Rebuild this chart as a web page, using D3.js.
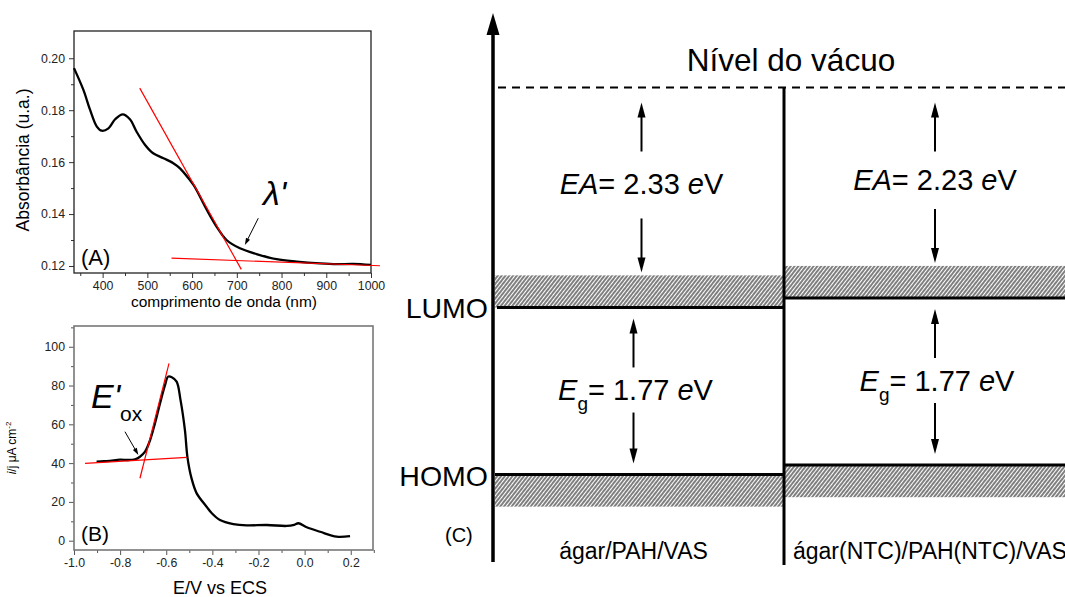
<!DOCTYPE html>
<html>
<head>
<meta charset="utf-8">
<script src="https://cdn.jsdelivr.net/npm/d3@7"></script>
<style>
  body { margin: 0; background: #fff; }
  svg { display: block; }
  text { font-family: "Liberation Sans", Arial, sans-serif; }
</style>
</head>
<body>
<svg id="fig" width="1065" height="597"></svg>
<script>
// ---- Panel A: UV-Vis absorption spectrum ----
const wavelength = [336, 357, 372, 387, 398, 413, 428, 445, 461, 476, 495, 513, 536, 558, 573, 595, 606, 633, 655, 677, 707, 744, 789, 834, 886, 923, 960, 1000];
const absorbance = [0.1962, 0.1878, 0.1801, 0.1737, 0.1721, 0.1730, 0.1765, 0.1784, 0.1765, 0.1717, 0.1666, 0.1634, 0.1615, 0.1596, 0.1576, 0.1531, 0.1505, 0.1416, 0.1351, 0.1300, 0.1268, 0.1246, 0.1226, 0.1217, 0.1210, 0.1207, 0.1208, 0.1204];
const edgeTangentX = [483, 710];
const edgeTangentY = [0.1885, 0.1187];
const tailBaseX = [554, 1020];
const tailBaseY = [0.1230, 0.1201];
const xTicksA = [400, 500, 600, 700, 800, 900, 1000];
const xMinorA = [350, 450, 550, 650, 750, 850, 950];
const yTicksA = [0.12, 0.14, 0.16, 0.18, 0.20];
const yMinorA = [0.13, 0.15, 0.17, 0.19];

// ---- Panel B: voltammogram ----
const potential = [-0.902, -0.87, -0.844, -0.80, -0.765, -0.735, -0.714, -0.692, -0.670, -0.649, -0.627, -0.605, -0.592, -0.576, -0.555, -0.538, -0.519, -0.508, -0.490, -0.468, -0.454, -0.425, -0.405, -0.367, -0.309, -0.251, -0.164, -0.078, -0.045, -0.027, 0.009, 0.067, 0.139, 0.197];
const current = [40.7, 41.0, 41.2, 41.8, 41.6, 42.0, 43.3, 45.9, 51.9, 60.5, 70.8, 80.3, 84.6, 84.3, 82.0, 72.5, 57.0, 43.0, 32.0, 24.4, 21.9, 17.5, 14.5, 10.7, 8.6, 7.9, 8.1, 7.6, 8.2, 9.0, 6.9, 4.6, 2.1, 2.4];
const onsetTangentX = [-0.714, -0.588];
const onsetTangentY = [32.2, 91.4];
const onsetBaseX = [-0.952, -0.511];
const onsetBaseY = [39.9, 43.0];
const xTicksB = [-1.0, -0.8, -0.6, -0.4, -0.2, 0.0, 0.2];
const xMinorB = [-0.9, -0.7, -0.5, -0.3, -0.1, 0.1, 0.3];
const yTicksB = [0, 20, 40, 60, 80, 100];
const yMinorB = [10, 30, 50, 70, 90, 110];

// ---- Panel C: energy level diagram ----
const films = ["ágar/PAH/VAS", "ágar(NTC)/PAH(NTC)/VAS"];
const electronAffinity = [2.33, 2.23];
const bandGap = [1.77, 1.77];
const bandThickness = 0.34;

const svg = d3.select("#fig");
svg.append("rect").attr("width", 1065).attr("height", 597).attr("fill", "#fff");

function arrow(g, x1, y1, x2, y2, len, w, sw) {
  const dx = x2 - x1, dy = y2 - y1, L = Math.hypot(dx, dy);
  const ux = dx / L, uy = dy / L;
  const bx = x2 - ux * len, by = y2 - uy * len;
  g.append("line").attr("x1", x1).attr("y1", y1)
    .attr("x2", bx + ux * 2).attr("y2", by + uy * 2)
    .attr("stroke", "#000").attr("stroke-width", sw);
  g.append("path")
    .attr("d", `M${x2},${y2}L${bx - uy * w / 2},${by + ux * w / 2}L${bx + uy * w / 2},${by - ux * w / 2}Z`)
    .attr("fill", "#000");
}

function frame(g, x, y, box, o) {
  g.append("g").attr("transform", `translate(0,${box.bottom})`)
    .call(d3.axisBottom(x).tickValues(o.xMajor).tickSize(5).tickPadding(3).tickFormat(o.xFmt));
  g.append("g").attr("transform", `translate(0,${box.bottom})`)
    .call(d3.axisBottom(x).tickValues(o.xMinor).tickSize(3).tickFormat(""));
  g.append("g").attr("transform", `translate(${box.left},0)`)
    .call(d3.axisLeft(y).tickValues(o.yMajor).tickSize(5).tickPadding(4).tickFormat(o.yFmt));
  g.append("g").attr("transform", `translate(${box.left},0)`)
    .call(d3.axisLeft(y).tickValues(o.yMinor).tickSize(3).tickFormat(""));
  g.selectAll(".domain").remove();
  g.selectAll(".tick line").attr("stroke", o.tickColor).attr("stroke-width", 1);
  g.selectAll(".tick text").attr("font-size", 12.3).attr("fill", "#222")
    .attr("font-family", "Liberation Sans, Arial, sans-serif");
  g.append("rect").attr("x", box.left).attr("y", box.top)
    .attr("width", box.right - box.left).attr("height", box.bottom - box.top)
    .attr("fill", "none").attr("stroke", o.frameColor).attr("stroke-width", o.frameWidth);
}

// ================= Panel A =================
const boxA = { left: 74, right: 371, top: 31, bottom: 273 };
const xA = d3.scaleLinear().domain([336, 1000]).range([boxA.left, boxA.right]);
const yA = d3.scaleLinear().domain([0.1173, 0.2105]).range([boxA.bottom, boxA.top]);
const gA = svg.append("g");
frame(gA, xA, yA, boxA, {
  xMajor: xTicksA, xMinor: xMinorA, yMajor: yTicksA, yMinor: yMinorA,
  xFmt: d3.format("d"), yFmt: d3.format(".2f"),
  tickColor: "#333", frameColor: "#222", frameWidth: 1.3
});
const lineA = d3.line().x(d => xA(d[0])).y(d => yA(d[1])).curve(d3.curveCatmullRom.alpha(0.5));
gA.append("path").datum(d3.zip(wavelength, absorbance)).attr("d", lineA)
  .attr("fill", "none").attr("stroke", "#000").attr("stroke-width", 2.3);
const straight = (g, xs, ys, x, y) => g.append("line")
  .attr("x1", x(xs[0])).attr("y1", y(ys[0])).attr("x2", x(xs[1])).attr("y2", y(ys[1]))
  .attr("stroke", "#f00").attr("stroke-width", 1.2);
straight(gA, edgeTangentX, edgeTangentY, xA, yA);
straight(gA, tailBaseX, tailBaseY, xA, yA);
arrow(gA, xA(748), yA(0.1384), xA(718), yA(0.1281), 7, 4.5, 1);
gA.append("text").attr("x", 263).attr("y", 205)
  .attr("font-family", "Liberation Serif, Times New Roman, serif").attr("font-style", "italic")
  .attr("font-size", 34).text("λ'");
gA.append("text").attr("x", 81).attr("y", 265).attr("font-size", 22).text("(A)");
gA.append("text").attr("x", 224).attr("y", 307).attr("text-anchor", "middle")
  .attr("font-size", 15.5).text("comprimento de onda (nm)");
gA.append("text").attr("transform", "translate(29,160) rotate(-90)").attr("text-anchor", "middle")
  .attr("font-size", 17.5).text("Absorbância (u.a.)");

// ================= Panel B =================
const boxB = { left: 74, right: 373, top: 326, bottom: 550 };
const xB = d3.scaleLinear().domain([-1.0, 0.3]).range([boxB.left, boxB.left + 299.8]);
const yB = d3.scaleLinear().domain([-4.8, 110.7]).range([boxB.bottom, boxB.top]);
const gB = svg.append("g");
frame(gB, xB, yB, boxB, {
  xMajor: xTicksB, xMinor: xMinorB, yMajor: yTicksB, yMinor: yMinorB,
  xFmt: d3.format(".1f"), yFmt: d3.format("d"),
  tickColor: "#555", frameColor: "#777", frameWidth: 1.6
});
gB.selectAll(".tick text").text(function () { return this.textContent.replace("−", "-"); });
const lineB = d3.line().x(d => xB(d[0])).y(d => yB(d[1])).curve(d3.curveCatmullRom.alpha(0.5));
gB.append("path").datum(d3.zip(potential, current)).attr("d", lineB)
  .attr("fill", "none").attr("stroke", "#000").attr("stroke-width", 2.3);
straight(gB, onsetTangentX, onsetTangentY, xB, yB);
straight(gB, onsetBaseX, onsetBaseY, xB, yB);
arrow(gB, xB(-0.779), yB(56.2), xB(-0.721), yB(44.2), 7, 4.5, 1);
gB.append("text").attr("x", 91).attr("y", 408)
  .attr("font-family", "Liberation Serif, Times New Roman, serif").attr("font-style", "italic")
  .attr("font-size", 34).text("E'");
gB.append("text").attr("x", 120).attr("y", 421).attr("font-size", 21).text("ox");
gB.append("text").attr("x", 81).attr("y", 541).attr("font-size", 21).text("(B)");
gB.append("text").attr("x", 220).attr("y", 594).attr("text-anchor", "middle")
  .attr("font-size", 18).text("E/V vs ECS");
const yl = gB.append("text").attr("transform", "translate(16,448) rotate(-90)")
  .attr("text-anchor", "middle").attr("font-size", 12);
yl.append("tspan").attr("font-style", "italic").text("i");
yl.append("tspan").text("/j μA cm");
yl.append("tspan").attr("font-size", 8).attr("dy", -5).text("-2");

// ================= Panel C =================
const gC = svg.append("g");
const defs = svg.append("defs");
const pat = defs.append("pattern").attr("id", "hatch").attr("patternUnits", "userSpaceOnUse")
  .attr("width", 3).attr("height", 10).attr("patternTransform", "rotate(38)");
pat.append("rect").attr("width", 3).attr("height", 10).attr("fill", "#fff");
pat.append("line").attr("x1", 1).attr("y1", 0).attr("x2", 1).attr("y2", 10)
  .attr("stroke", "#000").attr("stroke-width", 1);

const axisX = 493;
const colEdge = d3.scaleLinear().domain([0, 1, 2]).range([axisX, 784, 1086]);
const yE = d3.scaleLinear().domain([0, -5]).range([87.5, 559.5]);
const vac = yE(0);

films.forEach((name, i) => {
  const x0 = colEdge(i), x1 = Math.min(colEdge(i + 1), 1070);
  const cx = (colEdge(i) + colEdge(i + 1)) / 2;
  const lumo = yE(-electronAffinity[i]);
  const homo = yE(-(electronAffinity[i] + bandGap[i]));
  const hx0 = i === 0 ? x0 + 2 : x0;
  gC.append("rect").attr("x", hx0).attr("y", yE(-electronAffinity[i] + bandThickness))
    .attr("width", x1 - hx0).attr("height", lumo - yE(-electronAffinity[i] + bandThickness))
    .attr("fill", "url(#hatch)");
  gC.append("rect").attr("x", hx0).attr("y", homo)
    .attr("width", x1 - hx0).attr("height", yE(-(electronAffinity[i] + bandGap[i] + bandThickness)) - homo)
    .attr("fill", "url(#hatch)");
  gC.append("line").attr("x1", x0 + (i === 0 ? 4 : 0)).attr("x2", x1).attr("y1", lumo).attr("y2", lumo)
    .attr("stroke", "#000").attr("stroke-width", 3);
  gC.append("line").attr("x1", x0 + (i === 0 ? 2 : 0)).attr("x2", x1).attr("y1", homo).attr("y2", homo)
    .attr("stroke", "#000").attr("stroke-width", 3);

  // electron affinity arrows and label
  const eaX = i === 0 ? cx + 3 : cx;
  arrow(gC, eaX, vac + 64, eaX, vac + 15, 15, 8, 2);
  arrow(gC, eaX, lumo - 89, eaX, lumo - 35, 15, 8, 2);
  const ea = gC.append("text").attr("x", eaX).attr("y", (vac + lumo) / 2 - 3)
    .attr("text-anchor", "middle").attr("font-size", 29);
  ea.append("tspan").attr("font-style", "italic").text("EA");
  ea.append("tspan").text("= " + electronAffinity[i].toFixed(2) + " ");
  ea.append("tspan").attr("font-style", "italic").text("e");
  ea.append("tspan").text("V");

  // band gap arrows and label
  const egX = i === 0 ? cx - 5 : cx;
  arrow(gC, egX, lumo + 60, egX, lumo + 11, 15, 8, 2);
  arrow(gC, egX, homo - 62, egX, homo - 11, 15, 8, 2);
  const eg = gC.append("text").attr("x", egX + 2).attr("y", (lumo + homo) / 2 + 9.5)
    .attr("text-anchor", "middle").attr("font-size", 29);
  eg.append("tspan").attr("font-style", "italic").text("E");
  eg.append("tspan").attr("font-size", 19).attr("dy", 10).text("g");
  eg.append("tspan").attr("dy", -10).text("= " + bandGap[i].toFixed(2) + " ");
  eg.append("tspan").attr("font-style", "italic").text("e");
  eg.append("tspan").text("V");

  gC.append("text").attr("x", i === 0 ? cx - 5 : 793).attr("y", 559)
    .attr("text-anchor", i === 0 ? "middle" : "start").attr("font-size", 23).text(name);
});

// vacuum level
gC.append("line").attr("x1", axisX + 5).attr("x2", 1065).attr("y1", vac).attr("y2", vac)
  .attr("stroke", "#000").attr("stroke-width", 2).attr("stroke-dasharray", "8,6");
gC.append("text").attr("x", 791).attr("y", 71).attr("text-anchor", "middle")
  .attr("font-size", 31.5).text("Nível do vácuo");

// separator between the two films
gC.append("line").attr("x1", colEdge(1)).attr("x2", colEdge(1)).attr("y1", vac).attr("y2", 565)
  .attr("stroke", "#000").attr("stroke-width", 3);

// energy axis
gC.append("line").attr("x1", axisX).attr("x2", axisX).attr("y1", 562).attr("y2", 30)
  .attr("stroke", "#000").attr("stroke-width", 3.5);
gC.append("path").attr("d", `M${axisX},13L${axisX - 6.5},35L${axisX + 6.5},35Z`).attr("fill", "#000");

const lumo0 = yE(-electronAffinity[0]);
const homo0 = yE(-(electronAffinity[0] + bandGap[0]));
gC.append("text").attr("x", 488).attr("y", lumo0 + 11).attr("text-anchor", "end")
  .attr("font-size", 28.5).text("LUMO");
gC.append("text").attr("x", 488).attr("y", homo0 + 11).attr("text-anchor", "end")
  .attr("font-size", 28.5).text("HOMO");
gC.append("text").attr("x", 445).attr("y", 542).attr("font-size", 20).text("(C)");
</script>
</body>
</html>
